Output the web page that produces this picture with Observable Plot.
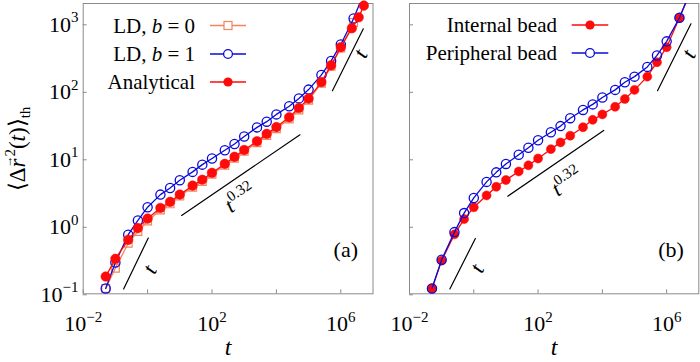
<!DOCTYPE html>
<html><head><meta charset="utf-8">
<script src="https://cdn.jsdelivr.net/npm/d3@7"></script>
<script src="https://cdn.jsdelivr.net/npm/@observablehq/plot@0.6"></script>
<style>
body{margin:0;background:#fff}
#c{position:relative;width:700px;height:362px;overflow:hidden;background:#fff}
#c svg{position:absolute;top:0;overflow:visible}
text{white-space:pre}
</style>
</head><body><div id="c"></div>
<script>
// ---------- data ----------
const tGrid = [0.05,0.1,0.25,0.5,1,2.5,5,10,25,50,100,250,500,1000,2500,5000,1e4,2.5e4,5e4,1e5,2.5e5,5e5,1e6,2.5e6];
const tGridExt = [...tGrid, 5e6];
// panel (a)
const ldB0 = [0.12,0.24,0.56,0.84,1.2,1.75,2.15,2.8,3.8,4.6,5.9,8.0,10.2,12.9,17.3,22.2,28,39,53,74,132,235,440,1050];
const ldB1 = [0.12,0.29,0.75,1.22,1.92,2.95,3.7,4.8,6.4,8.2,10.1,13.4,16.6,21.4,29.2,35.5,45.5,60,78.5,106,175,282,495,1200,2700];
const tAnalytical = [0.05,0.1,0.25,0.5,1,2.5,5,10,25,50,100,250,500,1000,2500,5000,1e4,2.5e4,5e4,1e5,2.5e5,5e5,1e6,2.2e6,3.6e6,5.2e6];
const analytical = [0.18,0.33,0.63,0.94,1.3,1.87,2.3,2.95,4.0,4.9,6.2,8.4,10.7,13.5,18.2,23.4,29.5,41.2,56.5,78,137,242,450,860,1250,1860];
// panel (b)
const internalBead = [0.12,0.31,0.76,1.28,1.91,2.87,3.85,4.85,6.5,8.0,10.1,13.9,17.5,22,29.4,37.8,45.5,59,77,105,165,270,450,1230,2700];
const peripheralBead = [0.12,0.32,0.82,1.57,2.63,4.55,6.3,8.4,11.5,14.6,18.8,24.8,30.5,40,53,64,81,105,136,165,230,340,550,1230,2700];
// guide lines (power laws) and their labels
const guideA = [
  {g:1,t:0.18,y:0.118},{g:1,t:1.05,y:0.67},
  {g:2,t:11.4,y:1.45},{g:2,t:5.4e4,y:22.7},
  {g:3,t:5.5e5,y:102},{g:3,t:5e6,y:843}
];
const guideB = [
  {g:1,t:0.18,y:0.118},{g:1,t:1.12,y:0.66},
  {g:2,t:11.4,y:2.79},{g:2,t:1.1e4,y:26.3},
  {g:3,t:5.2e5,y:102},{g:3,t:5.7e6,y:1000}
];
const notesA = [{t:1.16,y:0.23,s:"t",r:-64},{t:770,y:2.58,s:"t^0.32",r:-34},{t:4.1e6,y:360,s:"t",r:-64}];
const notesB = [{t:1.26,y:0.237,s:"t",r:-64},{t:800,y:4.5,s:"t^0.32",r:-34},{t:4.9e6,y:359,s:"t",r:-64}];
// ticks
const xTicks = [1e-2,1,1e2,1e4,1e6];
const xTickLabels = ["10^-2","","10^2","","10^6"];
const yTicks = [0.1,1,10,100,1000];
const yTickLabels = ["10^-1","10^0","10^1","10^2","10^3"];
const legendA = [["LD, |b| = 0"],["LD, |b| = 1"],["Analytical"]];
const legendB = [["Internal bead"],["Peripheral bead"]];
const panelLabels = ["(a)","(b)"];
const xLabel = "t";

// ---------- styles ----------
const H = 362;
const FONT = "'Liberation Serif','Times New Roman',serif";
const RED = "#ff0a0a", BLUE = "#0a0ad8", ORANGE = "#f4845c", FRAME = "#8a8a8a";

const rows = (ts, ys) => ts.map((t,i) => ({t, y: ys[i]})).filter(d => d.y !== undefined);
const inFrame = d => d.y <= 2000;
const labelOf = (ticks, labels) => d => { const i = ticks.findIndex(v => Math.abs(Math.log10(v) - Math.log10(d)) < 1e-6); return i < 0 ? "" : labels[i]; };

function panel({width, ml, mr, marks, yLabels, notes, guide, letter}) {
  return Plot.plot({
    width, height: H, marginLeft: ml, marginRight: mr, marginTop: 3, marginBottom: 68.7,
    style: {fontFamily: FONT, fontSize: "22px", background: "transparent", overflow: "visible", color: "black"},
    x: {type: "log", domain: [1e-2, 1e7]},
    y: {type: "log", domain: [0.1, 2000]},
    marks: [
      Plot.axisX({ticks: xTicks, tickSize: -4, tickPadding: 25.7, tickFormat: labelOf(xTicks, xTickLabels), stroke: FRAME, label: null}),
      Plot.axisY({ticks: yTicks, tickSize: -4, tickPadding: 8.7, tickFormat: yLabels ? labelOf(yTicks, yTickLabels) : () => "", stroke: FRAME, label: null, dy: 1}),
      Plot.frame({stroke: FRAME, strokeWidth: 1}),
      Plot.line(guide, {x: "t", y: "y", z: "g", stroke: "black", strokeWidth: 1.2}),
      ...marks,
      Plot.text(notes, {x: "t", y: "y", text: "s", rotate: "r", fontStyle: "italic", fontSize: 22, lineAnchor: "middle"}),
      Plot.text([xLabel], {frameAnchor: "bottom", text: d => d, dy: 54, lineAnchor: "middle", fontStyle: "italic", fontSize: 24}),
      Plot.text([letter], {frameAnchor: "bottom-right", text: d => d, dx: -15, dy: -44, textAnchor: "end", lineAnchor: "middle", fontSize: 22})
    ]
  });
}

const svgA = panel({
  width: 375, ml: 82.7, mr: 2.5, yLabels: true, notes: notesA, guide: guideA, letter: panelLabels[0],
  marks: [
    Plot.line(rows(tGrid, ldB0), {x: "t", y: "y", stroke: ORANGE, strokeWidth: 1.3, clip: true}),
    Plot.dot(rows(tGrid, ldB0).filter(inFrame), {x: "t", y: "y", symbol: "square", r: 4.4, stroke: ORANGE, strokeWidth: 1.2}),
    Plot.line(rows(tGridExt, ldB1), {x: "t", y: "y", stroke: BLUE, strokeWidth: 1.3, clip: true}),
    Plot.dot(rows(tGridExt, ldB1).filter(inFrame), {x: "t", y: "y", r: 4.6, stroke: BLUE, strokeWidth: 1.3}),
    Plot.line(rows(tAnalytical, analytical), {x: "t", y: "y", stroke: RED, strokeWidth: 1.3, clip: true}),
    Plot.dot(rows(tAnalytical, analytical).filter(inFrame), {x: "t", y: "y", r: 4.8, fill: RED, stroke: RED, strokeWidth: 0.5})
  ]
});
const svgB = panel({
  width: 325, ml: 34, mr: 1.7, yLabels: false, notes: notesB, guide: guideB, letter: panelLabels[1],
  marks: [
    Plot.line(rows(tGridExt, internalBead), {x: "t", y: "y", stroke: RED, strokeWidth: 1.3, clip: true}),
    Plot.dot(rows(tGridExt, internalBead).filter(inFrame), {x: "t", y: "y", r: 4.5, fill: RED, stroke: RED, strokeWidth: 0.5}),
    Plot.line(rows(tGridExt, peripheralBead), {x: "t", y: "y", stroke: BLUE, strokeWidth: 1.3, clip: true}),
    Plot.dot(rows(tGridExt, peripheralBead).filter(inFrame), {x: "t", y: "y", r: 4.6, stroke: BLUE, strokeWidth: 1.3})
  ]
});
svgA.style.left = "0px";
svgB.style.left = "375px";
document.getElementById("c").append(svgA, svgB);

// ---------- superscripts in texts ----------
function supify(svg) {
  d3.select(svg).selectAll("text").each(function() {
    const s = this.textContent;
    if (!s.includes("^")) return;
    const [base, exp] = s.split("^");
    const el = d3.select(this);
    const italic = el.attr("font-style") === "italic" || (this.parentNode && d3.select(this.parentNode).attr("font-style") === "italic");
    el.text(null);
    el.append("tspan").attr("font-style", italic ? "italic" : null).text(base);
    el.append("tspan").attr("dy", -9.5).attr("font-size", 15).attr("font-style", "normal").text(exp.replace("-", "\u2212"));
  });
}
supify(svgA); supify(svgB);
d3.selectAll("#c svg g[aria-label$='tick label'] text").attr("fill", "black");

// ---------- legends ----------
function legend(svg, items, styles, {textX, x1, x2}) {
  const g = d3.select(svg).append("g").attr("font-family", FONT).attr("font-size", 21);
  items.forEach(([label], i) => {
    const st = styles[i];
    const t = g.append("text").attr("x", textX).attr("y", st.y + 7).attr("text-anchor", "end");
    label.split("|").forEach((part, k) => t.append("tspan").attr("font-style", k === 1 ? "italic" : null).text(part));
    g.append("line").attr("x1", x1).attr("x2", x2).attr("y1", st.y).attr("y2", st.y).attr("stroke", st.color).attr("stroke-width", 1.3);
    const mx = (x1 + x2) / 2;
    if (st.shape === "square") g.append("rect").attr("x", mx - 4).attr("y", st.y - 4).attr("width", 8).attr("height", 8).attr("fill", "white").attr("stroke", st.color).attr("stroke-width", 1.2);
    else if (st.shape === "open") g.append("circle").attr("cx", mx).attr("cy", st.y).attr("r", 4.4).attr("fill", "white").attr("stroke", st.color).attr("stroke-width", 1.3);
    else g.append("circle").attr("cx", mx).attr("cy", st.y).attr("r", 4.6).attr("fill", st.color);
  });
}
legend(svgA, legendA, [
  {y: 25.5, color: ORANGE, shape: "square"},
  {y: 54, color: BLUE, shape: "open"},
  {y: 82, color: RED, shape: "filled"}
], {textX: 195, x1: 210, x2: 246});
legend(svgB, legendB, [
  {y: 25, color: RED, shape: "filled"},
  {y: 53, color: BLUE, shape: "open"}
], {textX: 182, x1: 196.7, x2: 233.3});

// ---------- y-axis title ----------
const yt = d3.select(svgA).append("text")
  .attr("transform", "translate(25,149) rotate(-90)")
  .attr("text-anchor", "middle").attr("font-family", FONT).attr("font-size", 23);
yt.append("tspan").text("\u27E8\u0394");
yt.append("tspan").attr("font-style", "italic").text("r");
yt.append("tspan").attr("font-size", 12).attr("dx", -9).attr("dy", -13).text("\u2192");
yt.append("tspan").attr("font-size", 15).attr("dx", -1).attr("dy", 3).text("2");
yt.append("tspan").attr("dy", 10).text("(");
yt.append("tspan").attr("font-style", "italic").text("t");
yt.append("tspan").text(")\u27E9");
yt.append("tspan").attr("font-size", 15).attr("dy", 5).text("th");
</script>
</body></html>
